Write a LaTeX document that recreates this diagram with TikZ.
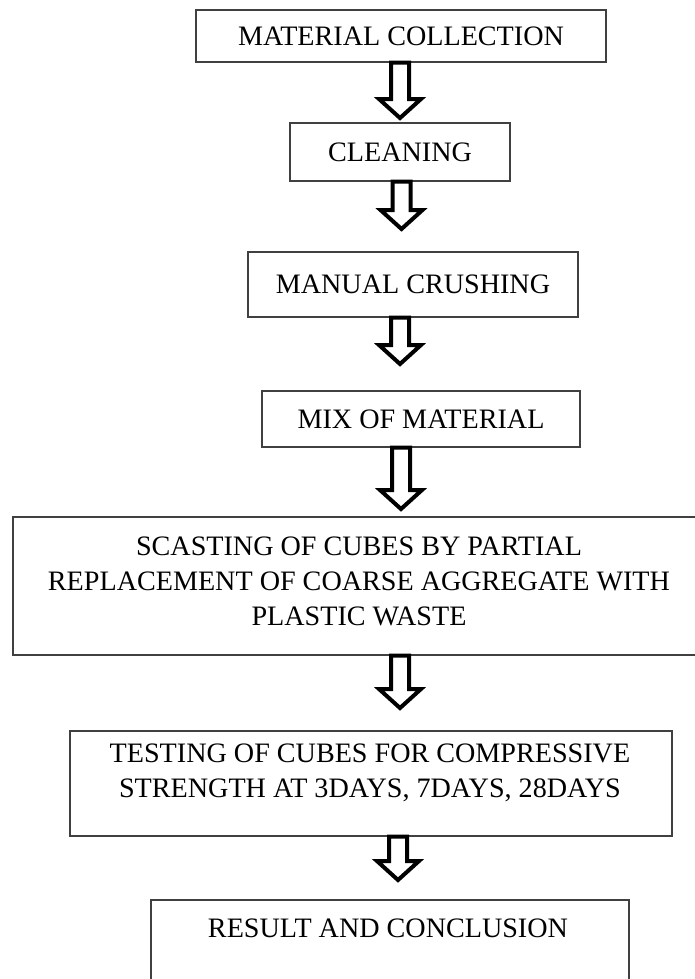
\documentclass[tikz,border=0pt]{standalone}
\usepackage{fontspec}
\setmainfont{Liberation Serif}
\usepackage{tikz}
\usetikzlibrary{calc}

\newcommand{\PX}{0.75pt}
\newcommand{\StageFont}{\fontsize{21.1}{26.25}\selectfont}
% hollow block arrow, from a point on a box edge to its tip
\newcommand{\hollowarrow}[2]{%
\draw[hollow] let \p1=(#1), \p2=(#2) in
  (\x2-6.75pt,\y1) -- (\x2-6.75pt,\y2+14.25pt) -- (\x2-15.75pt,\y2+14.25pt)
  -- (\x2,\y2) -- (\x2+15.75pt,\y2+14.25pt) -- (\x2+6.75pt,\y2+14.25pt)
  -- (\x2+6.75pt,\y1) -- cycle;}

\tikzset{
  stage/.style={draw=black!75, line width=1.1pt, inner sep=0pt},
  stagetext/.style={font=\StageFont, align=center, inner sep=0pt},
  hollow/.style={draw=black, line width=3pt, fill=white, line join=miter}
}

\begin{document}
\begin{tikzpicture}[x=\PX, y=-\PX]
\useasboundingbox (0,0) rectangle (695,979);

% stages
\node[stage, stagetext, minimum width=410*\PX, minimum height=52*\PX] (collect) at (401,36) {MATERIAL COLLECTION};
\node[stage, stagetext, minimum width=220*\PX, minimum height=58*\PX] (clean) at (400,152) {CLEANING};
\node[stage, stagetext, minimum width=330*\PX, minimum height=65*\PX] (crush) at (413,284.5) {MANUAL CRUSHING};
\node[stage, stagetext, minimum width=318*\PX, minimum height=56*\PX] (mix) at (421,419) {MIX OF MATERIAL};
\node[stage, minimum width=690*\PX, minimum height=138*\PX] (cast) at (358,586) {};
\node[stage, minimum width=602*\PX, minimum height=105*\PX] (test) at (371,783.5) {};
\node[stage, minimum width=478*\PX, minimum height=110*\PX] (result) at (390,955) {};

% texts of the large boxes
\node[stagetext] (casttext) at (359,581) {SCASTING OF CUBES BY PARTIAL\\
  REPLACEMENT OF COARSE AGGREGATE WITH\\ PLASTIC WASTE};
\node[stagetext] (testtext) at (370,772.5) {TESTING OF CUBES FOR COMPRESSIVE\\
  STRENGTH AT 3DAYS, 7DAYS, 28DAYS};
\node[stagetext] (resulttext) at (388,928) {RESULT AND CONCLUSION};

% arrow tips
\coordinate (tip1) at (400,118);
\coordinate (tip2) at (401.5,229);
\coordinate (tip3) at (400,364);
\coordinate (tip4) at (401,509);
\coordinate (tip5) at (400,708);
\coordinate (tip6) at (398,880);

\hollowarrow{collect.south -| tip1}{tip1}
\hollowarrow{clean.south -| tip2}{tip2}
\hollowarrow{crush.south -| tip3}{tip3}
\hollowarrow{mix.south -| tip4}{tip4}
\hollowarrow{cast.south -| tip5}{tip5}
\hollowarrow{test.south -| tip6}{tip6}
\end{tikzpicture}
\end{document}
